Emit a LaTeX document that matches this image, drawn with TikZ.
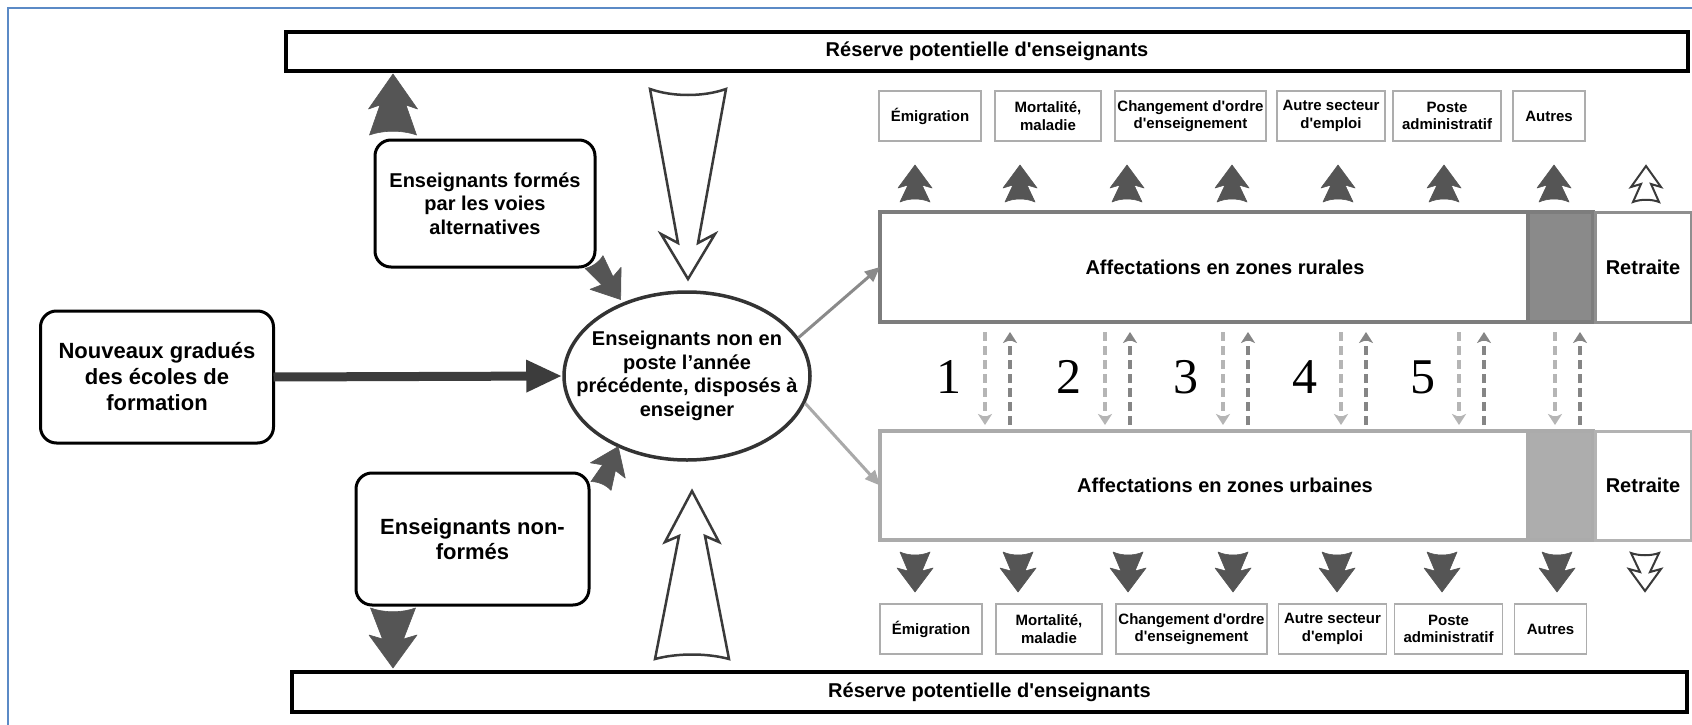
\documentclass[tikz,border=0pt]{standalone}
\usepackage{fontspec}
\setmainfont{Liberation Sans}[Ligatures=TeXOff]
\newfontfamily\numfont{Liberation Serif}
\usetikzlibrary{arrows.meta,calc,shapes.geometric}

\definecolor{frameblue}{HTML}{5B8AC6}
\definecolor{arrdark}{HTML}{555555}
\definecolor{arrdeep}{HTML}{3C3C3C}
\definecolor{openline}{HTML}{3A3A3A}
\definecolor{ruralline}{HTML}{7D7D7D}
\definecolor{ruralfill}{HTML}{8A8A8A}
\definecolor{ruralret}{HTML}{8F8F8F}
\definecolor{urbanline}{HTML}{ABABAB}
\definecolor{urbanfill}{HTML}{ADADAD}
\definecolor{urbanret}{HTML}{B3B3B3}
\definecolor{smallline}{HTML}{ADADAD}
\definecolor{dashlight}{HTML}{B5B5B5}
\definecolor{dashdark}{HTML}{858585}
\definecolor{ellline}{HTML}{333333}
\definecolor{linkrural}{HTML}{8A8A8A}
\definecolor{linkurban}{HTML}{A9A9A9}

% block arrow drawn pointing up, tail centre at the origin
\tikzset{
  arr tw/.store in=\faTW, arr nw/.store in=\faNW, arr bw/.store in=\faBW,
  arr hl/.store in=\faHL, arr len/.store in=\faLen, arr bb/.store in=\faBB,
  arr cv/.store in=\faCV,
  arr tw=15, arr nw=7, arr bw=16, arr hl=20, arr len=38, arr bb=3, arr cv=4,
  fat arrow/.pic={
    \path[pic actions]
      (-\faTW,0) -- (-\faNW,{-(\faLen-\faHL)}) -- (-\faBW,{-(\faLen-\faHL)+\faBB})
      -- (0,-\faLen)
      -- (\faBW,{-(\faLen-\faHL)+\faBB}) -- (\faNW,{-(\faLen-\faHL)}) -- (\faTW,0)
      .. controls ({0.4*\faTW},{-\faCV}) and ({-0.4*\faTW},{-\faCV}) .. (-\faTW,0)
      -- cycle;
  },
}

\begin{document}
\begin{tikzpicture}[x=1pt,y=-1pt,
  reserve/.style={draw=black, line width=3.5pt, fill=white, minimum height=39pt,
    inner sep=0pt, outer sep=0pt, font=\bfseries\fontsize{20pt}{24pt}\selectfont},
  bigbox/.style={draw=black, line width=3pt, rounded corners=16pt, fill=white,
    align=center, inner sep=0pt, outer sep=0pt},
  smallbox/.style={draw=smallline, line width=1.6pt, fill=white, minimum height=50pt,
    align=center, inner sep=0pt, font=\bfseries\fontsize{15pt}{17.5pt}\selectfont},
  zone/.style={line width=4pt, minimum height=110pt, inner sep=0pt, outer sep=0pt,
    font=\bfseries\fontsize{20pt}{24pt}\selectfont},
  numlabel/.style={font=\numfont\fontsize{50pt}{50pt}\selectfont, inner sep=0pt},
  dark arrow/.style={fill=arrdark, draw=arrdark, line width=0.6pt, line join=round},
  open arrow/.style={fill=white, draw=openline, line width=2.5pt, line join=miter},
  link/.style={line width=3pt, -{Triangle[length=15pt,width=13pt]}},
  swapdown/.style={draw=dashlight, line width=3.5pt, dash pattern=on 9pt off 5pt,
    -{Stealth[length=11pt,width=14pt,inset=3pt]}},
  swapup/.style={draw=dashdark, line width=3.5pt, dash pattern=on 9pt off 5pt,
    -{Stealth[length=11pt,width=14pt,inset=3pt]}},
]
\useasboundingbox (0,0) rectangle (1692,725);
\fill[white] (0,0) rectangle (1692,725);
\draw[frameblue, line width=2pt] (7.5,8.5) rectangle (1710,745);

% pools of potential teachers
\node[reserve, minimum width=1402pt] (topres) at (987,51.5) {Réserve potentielle d'enseignants};
\node[reserve, minimum width=1395pt, minimum height=40pt] (botres) at (989.5,692) {Réserve potentielle d'enseignants};

% sources of entrants
\node[bigbox, minimum width=220pt, minimum height=127pt,
  font=\bfseries\fontsize{20pt}{23.5pt}\selectfont] (formes) at (485,203.5)
  {Enseignants formés\\par les voies\\alternatives};
\node[bigbox, minimum width=233pt, minimum height=132pt,
  font=\bfseries\fontsize{22pt}{26pt}\selectfont] (grad) at (157,377)
  {Nouveaux gradués\\des écoles de\\formation};
\node[bigbox, minimum width=233pt, minimum height=132pt,
  font=\bfseries\fontsize{22pt}{25pt}\selectfont] (nonf) at (472.5,539)
  {Enseignants non-\\formés};
\node[ellipse, draw=ellline, line width=3.5pt, fill=white, minimum width=246pt,
  minimum height=168pt, inner sep=0pt,
  label={[align=center, font=\bfseries\fontsize{20pt}{23.7pt}\selectfont]center:
    Enseignants non en\\poste l’année\\précédente, disposés à\\enseigner}]
  (ell) at (687,376) {};

% exits, rural side
\node[smallbox, minimum width=102pt] (te1) at (930,116) {Émigration};
\node[smallbox, minimum width=106pt] (te2) at (1048,116) {Mortalité,\\maladie};
\node[smallbox, minimum width=151pt] (te3) at (1190.5,116) {Changement d'ordre\\d'enseignement};
\node[smallbox, minimum width=108pt] (te4) at (1331,116) {Autre secteur\\d'emploi};
\node[smallbox, minimum width=108pt] (te5) at (1447,116) {Poste\\administratif};
\node[smallbox, minimum width=72pt] (te6) at (1549,116) {Autres};

% exits, urban side
\node[smallbox, minimum width=102pt] (be1) at (931,629) {Émigration};
\node[smallbox, minimum width=106pt] (be2) at (1049,629) {Mortalité,\\maladie};
\node[smallbox, minimum width=151pt] (be3) at (1191.5,629) {Changement d'ordre\\d'enseignement};
\node[smallbox, minimum width=108pt] (be4) at (1332.5,629) {Autre secteur\\d'emploi};
\node[smallbox, minimum width=108pt] (be5) at (1448.5,629) {Poste\\administratif};
\node[smallbox, minimum width=72pt] (be6) at (1550.5,629) {Autres};

% postings
\node[zone, draw=ruralline, fill=white, minimum width=648pt] (rural) at (1204,267)
  {\hspace*{42pt}Affectations en zones rurales};
\node[zone, draw=ruralline, fill=ruralfill, minimum width=65pt] (ruralgap) at (1560.5,267) {};
\node[zone, draw=ruralret, line width=3pt, fill=white, minimum width=96pt] (ruralretr) at (1643,267) {Retraite};

\node[zone, draw=urbanline, fill=white, minimum width=648pt, minimum height=109pt] (urban) at (1204,485.5)
  {\hspace*{42pt}Affectations en zones urbaines};
\node[zone, draw=urbanline, fill=urbanfill, minimum width=65pt, minimum height=109pt] (urbangap) at (1560.5,485.5) {};
\node[zone, draw=urbanret, line width=3pt, fill=white, minimum width=96pt, minimum height=109pt] (urbanretr) at (1643,485.5) {Retraite};

% transfers between rural and urban postings
\foreach \dx in {105,225,343,461,579,675} {
  \draw[swapdown] ($(rural.south west)+(\dx,10)$) -- ($(urban.north west)+(\dx,-6)$);
  \draw[swapup] ($(urban.north west)+(\dx+25,-6)$) -- ($(rural.south west)+(\dx+25,10)$);
}
\node[numlabel] (n1) at (949,377) {1};
\node[numlabel] (n2) at (1069,377) {2};
\node[numlabel] (n3) at (1186,377) {3};
\node[numlabel] (n4) at (1305,377) {4};
\node[numlabel] (n5) at (1423,377) {5};

% flows into and out of the pool
\draw[line width=9pt, arrdeep, -{Triangle[length=36pt,width=30pt]}] (grad.east) -- (ell.west);
\draw[link, draw=linkrural, fill=linkrural] (ell.19) -- (rural.west);
\draw[link, draw=linkurban, fill=linkurban] (ell.-13) -- (urban.west);

\pic[dark arrow, arr len=61, arr tw=23.5, arr nw=13, arr bw=24.5, arr hl=31, arr bb=4, arr cv=5] at (393,135) {fat arrow};
\pic[dark arrow, rotate=180, arr len=60, arr tw=22.5, arr nw=10.5, arr bw=24, arr hl=29, arr bb=4, arr cv=5] at (393,608) {fat arrow};
\pic[dark arrow, rotate=-144.6, arr len=46, arr tw=11, arr nw=7, arr bw=19, arr hl=23, arr bb=3, arr cv=3] at (594,262) {fat arrow};
\pic[dark arrow, rotate=-23.6, arr len=43, arr tw=11, arr nw=7, arr bw=19, arr hl=23, arr bb=3, arr cv=3] at (601,486) {fat arrow};

\pic[open arrow, rotate=180, arr len=190, arr tw=38, arr nw=10, arr bw=27, arr hl=36, arr bb=9, arr cv=8] at (688,89) {fat arrow};
\pic[open arrow, arr len=168, arr tw=37, arr nw=13, arr bw=27, arr hl=45, arr bb=6, arr cv=6] at (692,659) {fat arrow};

\foreach \x in {915,1020,1127,1232,1338,1444,1554}
  \pic[dark arrow, arr len=37, arr tw=15, arr nw=7, arr bw=17, arr hl=20, arr bb=3, arr cv=4] at (\x,202) {fat arrow};
\foreach \x in {915,1018,1128,1233,1337,1442,1557}
  \pic[dark arrow, rotate=180, arr len=40, arr tw=15, arr nw=7, arr bw=18, arr hl=21, arr bb=3, arr cv=4] at (\x,552) {fat arrow};
\pic[open arrow, line width=2pt, arr len=36, arr tw=13, arr nw=5, arr bw=15, arr hl=18, arr bb=3, arr cv=3] at (1646,202) {fat arrow};
\pic[open arrow, line width=2pt, rotate=180, arr len=38, arr tw=14, arr nw=5, arr bw=16, arr hl=19, arr bb=3, arr cv=3] at (1645,553) {fat arrow};
\end{tikzpicture}
\end{document}
